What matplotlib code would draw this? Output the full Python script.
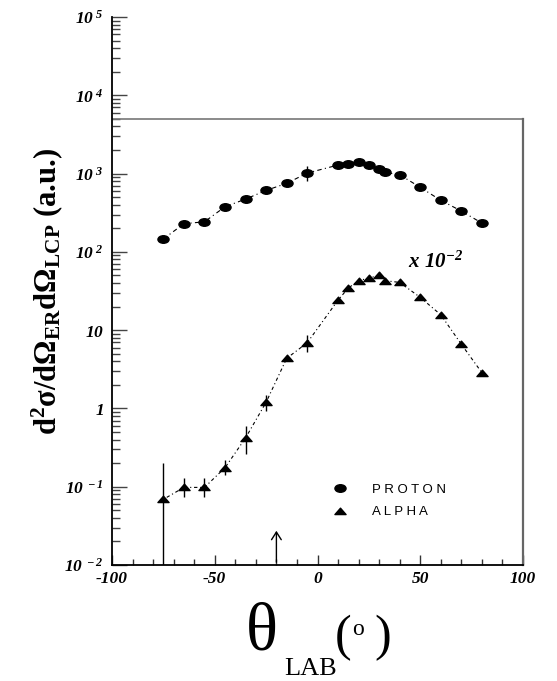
import numpy as np
import matplotlib
matplotlib.use('Agg')
import matplotlib.pyplot as plt
from matplotlib.path import Path
from matplotlib.transforms import Affine2D
from matplotlib.lines import Line2D
from matplotlib.ticker import FixedLocator, FixedFormatter, LogLocator, NullFormatter

plt.rcParams['mathtext.fontset'] = 'custom'
plt.rcParams['mathtext.rm'] = 'Liberation Serif:italic:bold'
plt.rcParams['mathtext.it'] = 'Liberation Serif:italic:bold'
plt.rcParams['mathtext.bf'] = 'Liberation Serif:bold'

## data
proton_theta = [-75, -65, -55, -45, -35, -25, -15, -5, 10, 15, 20, 25, 30, 33, 40, 50, 60, 70, 80]
proton_val = [146, 229, 242, 377, 472, 610, 750, 1015, 1285, 1334, 1390, 1285, 1130, 1035, 966, 667, 455, 332, 233]
proton_err = [0, 0, 0, 0, 0, 0, 0, 220, 0, 0, 0, 0, 0, 0, 0, 0, 0, 0, 0]

alpha_theta = [-75, -65, -55, -45, -35, -25, -15, -5, 10, 15, 20, 25, 30, 33, 40, 50, 60, 70, 80]
alpha_val = [0.069, 0.098, 0.098, 0.175, 0.42, 1.2, 4.36, 6.9, 24.2, 34.5, 42.8, 46.3, 50.0, 42.8, 40.7, 26.2, 15.7, 6.6, 2.86]
alpha_lo = [0.069, 0.025, 0.025, 0.034, 0.16, 0.27, 0, 1.6, 0, 0, 0, 0, 0, 0, 0, 0, 0, 0, 0]
alpha_hi = [0.131, 0.033, 0.033, 0.044, 0.18, 0.28, 0, 1.75, 0, 0, 0, 0, 0, 0, 0, 0, 0, 0, 0]

arrow_theta = -20
frame_top = 5e3

W, H = 557, 681
fig = plt.figure(figsize=(W / 100, H / 100), dpi=100)
ax = fig.add_axes([112 / W, 1 - 565 / H, (523 - 112) / W, (565 - 17) / H])

def px(x, y):
    return x / W, 1 - y / H

# flattened markers, like the original
ell = Path.unit_circle().transformed(Affine2D().scale(1, 0.68))
tri = Path([(-1, -0.55), (1, -0.55), (0, 0.6), (-1, -0.55)],
           [Path.MOVETO, Path.LINETO, Path.LINETO, Path.CLOSEPOLY])

ax.plot(proton_theta, proton_val, color='k', lw=0.8, ls=(0, (4, 3, 1, 3)),
        marker=ell, ms=8, mfc='k', mec='k')
ax.plot(alpha_theta, alpha_val, color='k', lw=0.8, ls=(0, (1, 2.5, 3, 2.5)),
        marker=tri, ms=8, mfc='k', mec='k')
ax.errorbar(proton_theta, proton_val, yerr=proton_err, fmt='none', ecolor='k', elinewidth=1)
ax.errorbar(alpha_theta, alpha_val, yerr=[alpha_lo, alpha_hi], fmt='none', ecolor='k', elinewidth=1)

ax.annotate('', xy=(arrow_theta, 0.0297), xytext=(arrow_theta, 0.01),
            arrowprops=dict(arrowstyle='->,head_length=0.55,head_width=0.35', color='k', lw=1),
            annotation_clip=False)

ax.set_yscale('log')
ax.set_xlim(-100, 100)
ax.set_ylim(1e-2, 1e5)

# frame: black left/bottom, grey partial top and right
for s in ['top', 'right']:
    ax.spines[s].set_visible(False)
for s in ['left', 'bottom']:
    ax.spines[s].set_linewidth(1.3)
ax.axhline(frame_top, color='#777777', lw=1.2)
ax.plot([100, 100], [1e-2, frame_top], color='#666666', lw=1.6, clip_on=False)

ax.yaxis.set_major_locator(FixedLocator([1e-2, 1e-1, 1, 10, 1e2, 1e3, 1e4, 1e5]))
ax.yaxis.set_major_formatter(FixedFormatter([
    r'$10^{\ -2}$', r'$10^{\ -1}$', r'$1$', r'$10$',
    r'$10^{\ 2}$', r'$10^{\ 3}$', r'$10^{\ 4}$', r'$10^{\ 5}$']))
ax.yaxis.set_minor_locator(LogLocator(base=10, subs=np.arange(2, 10), numticks=20))
ax.yaxis.set_minor_formatter(NullFormatter())
ax.set_xticks([-100, -50, 0, 50, 100])
ax.set_xticklabels(['-100', '-50', '0', '50', '100'], family='Liberation Serif',
                   weight='bold', style='italic', fontsize=12.5)
ax.set_xticks(np.arange(-90, 100, 10), minor=True)

ax.tick_params(axis='y', which='major', direction='in', length=11, width=1, color='#444444',
               labelsize=12.5, pad=6)
ax.tick_params(axis='y', which='minor', direction='in', length=6, width=1, color='#444444')
ax.tick_params(axis='x', which='major', direction='in', length=7, width=1, color='#333333', pad=4)
ax.tick_params(axis='x', which='minor', direction='in', length=4, width=1, color='#333333')

ax.text(44, 76, r'$x\ 10^{-2}$', fontsize=15, ha='left', va='center')

# legend
leg_handles = [Line2D([], [], ls='none', marker=ell, ms=8, color='k'),
               Line2D([], [], ls='none', marker=tri, ms=8, color='k')]
ax.legend(leg_handles, ['P R O T O N', 'A L P H A'], loc='upper left',
          bbox_to_anchor=px(322, 472), bbox_transform=fig.transFigure, frameon=False,
          handlelength=1, handletextpad=1.9, labelspacing=0.75,
          prop=dict(family='Liberation Sans', size=9.5))

# axis titles
fig.text(*px(47, 292), r'$\mathbf{d^2\sigma/d\Omega_{ER}d\Omega_{LCP}}$ (a.u.)', rotation=90,
         ha='center', va='center', fontsize=22, family='Liberation Serif', weight='bold')
fig.text(*px(246, 649), 'θ', fontsize=48, family='Liberation Serif', va='baseline', ha='left')
fig.text(*px(284, 675), 'LAB', fontsize=19, family='Liberation Serif', va='baseline', ha='left')
fig.text(*px(335, 650), '(', fontsize=36, family='Liberation Serif', va='baseline', ha='left')
fig.text(*px(352, 635), 'o', fontsize=17, family='Liberation Serif', va='baseline', ha='left')
fig.text(*px(374, 650), ')', fontsize=36, family='Liberation Serif', va='baseline', ha='left')

fig.savefig('out.png', dpi=100)
